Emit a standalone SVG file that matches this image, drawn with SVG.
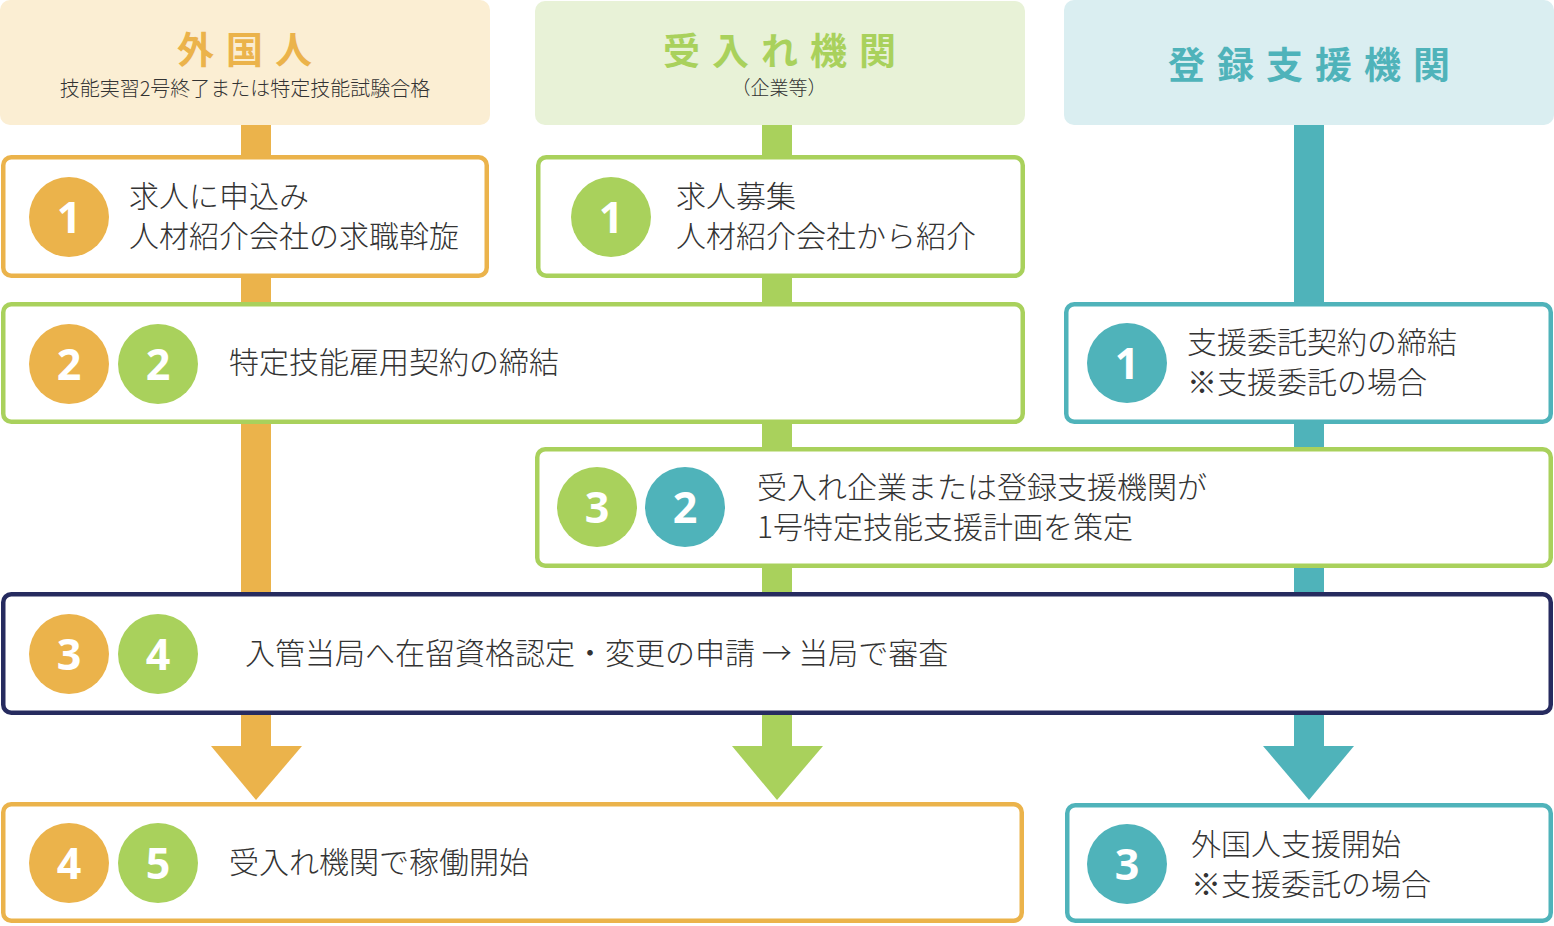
<svg xmlns="http://www.w3.org/2000/svg" width="1554" height="926" viewBox="0 0 1554 926">
<style>
.jp{font-family:"Noto Sans CJK JP","Noto Sans",sans-serif;}
.body{font-size:30px;fill:#333333;font-weight:300;}
.title{font-size:37px;font-weight:700;letter-spacing:12px;}
.num{font-family:"Open Sans","Noto Sans",sans-serif;font-weight:700;font-size:43px;fill:#ffffff;text-anchor:middle;}
.box{fill:#ffffff;stroke-width:4.5;}
.o{fill:#ebb34b;} .g{fill:#a9d15c;} .t{fill:#4fb3ba;}
.so{stroke:#ebb34b;} .sg{stroke:#a9d15c;} .st{stroke:#4fb3ba;} .sn{stroke:#262b5f;}
</style>
<rect width="1554" height="926" fill="#ffffff"/>
<g id="connectors">
  <rect x="241" y="124" width="30" height="623" class="o"/>
  <polygon points="211,746 302,746 256,800" class="o"/>
  <rect x="762" y="124" width="30" height="623" class="g"/>
  <polygon points="732,746 823,746 777,800" class="g"/>
  <rect x="1294" y="124" width="30" height="623" class="t"/>
  <polygon points="1263,746 1354,746 1309,800" class="t"/>
</g>
<g id="header-foreigner">
  <rect x="0" y="0" width="490" height="125" rx="10" fill="#fbeed3"/>
  <text x="177" y="64" class="jp title" fill="#ebb34b">外国人</text>
  <text x="245" y="96" class="jp" font-size="20" fill="#333333" text-anchor="middle" font-weight="300">技能実習2号終了または特定技能試験合格</text>
</g>
<g id="header-employer">
  <rect x="535" y="1" width="490" height="124" rx="10" fill="#e8f2d7"/>
  <text x="663" y="65" class="jp title" fill="#a9d15c">受入れ機関</text>
  <text x="779" y="95" class="jp" font-size="19" fill="#333333" text-anchor="middle" font-weight="300">（企業等）</text>
</g>
<g id="header-support">
  <rect x="1064" y="0" width="490" height="125" rx="10" fill="#daeef1"/>
  <text x="1168" y="79" class="jp title" fill="#4fb3ba">登録支援機関</text>
</g>
<g id="step-a1">
  <rect x="3.25" y="157.25" width="483.5" height="118.5" rx="8" class="box so"/>
  <circle cx="69" cy="217" r="40" class="o"/>
  <text x="69" y="233" class="num">1</text>
  <text x="129" y="207" class="jp body">求人に申込み</text>
  <text x="129" y="247" class="jp body">人材紹介会社の求職斡旋</text>
</g>
<g id="step-b1">
  <rect x="538.25" y="157.25" width="484.5" height="118.5" rx="8" class="box sg"/>
  <circle cx="611" cy="217" r="40" class="g"/>
  <text x="611" y="233" class="num">1</text>
  <text x="676" y="207" class="jp body">求人募集</text>
  <text x="676" y="247" class="jp body">人材紹介会社から紹介</text>
</g>
<g id="step-contract">
  <rect x="3.25" y="304.25" width="1019.5" height="117.5" rx="8" class="box sg"/>
  <circle cx="69" cy="364" r="40" class="o"/>
  <text x="69" y="380" class="num">2</text>
  <circle cx="158" cy="364" r="40" class="g"/>
  <text x="158" y="380" class="num">2</text>
  <text x="229" y="373" class="jp body">特定技能雇用契約の締結</text>
</g>
<g id="step-c1">
  <rect x="1066.25" y="304.25" width="484.5" height="117.5" rx="8" class="box st"/>
  <circle cx="1127" cy="363" r="40" class="t"/>
  <text x="1127" y="379" class="num">1</text>
  <text x="1187" y="353" class="jp body">支援委託契約の締結</text>
  <text x="1187" y="393" class="jp body">※支援委託の場合</text>
</g>
<g id="step-plan">
  <rect x="537.25" y="449.25" width="1013.5" height="116.5" rx="8" class="box sg"/>
  <circle cx="597" cy="507" r="40" class="g"/>
  <text x="597" y="523" class="num">3</text>
  <circle cx="685" cy="507" r="40" class="t"/>
  <text x="685" y="523" class="num">2</text>
  <text x="757" y="498" class="jp body">受入れ企業または登録支援機関が</text>
  <text x="757" y="538" class="jp body">1号特定技能支援計画を策定</text>
</g>
<g id="step-immigration">
  <rect x="3.25" y="594.25" width="1547.5" height="118.5" rx="8" class="box sn"/>
  <circle cx="69" cy="654" r="40" class="o"/>
  <text x="69" y="670" class="num">3</text>
  <circle cx="158" cy="654" r="40" class="g"/>
  <text x="158" y="670" class="num">4</text>
  <text x="245" y="664" class="jp body">入管当局へ在留資格認定・変更の申請 → 当局で審査</text>
</g>
<g id="step-start">
  <rect x="3.25" y="804.25" width="1018.5" height="116.5" rx="8" class="box so"/>
  <circle cx="69" cy="863" r="40" class="o"/>
  <text x="69" y="879" class="num">4</text>
  <circle cx="158" cy="863" r="40" class="g"/>
  <text x="158" y="879" class="num">5</text>
  <text x="229" y="873" class="jp body">受入れ機関で稼働開始</text>
</g>
<g id="step-c3">
  <rect x="1067.25" y="805.25" width="483.5" height="115.5" rx="8" class="box st"/>
  <circle cx="1127" cy="864" r="40" class="t"/>
  <text x="1127" y="880" class="num">3</text>
  <text x="1191" y="855" class="jp body">外国人支援開始</text>
  <text x="1191" y="895" class="jp body">※支援委託の場合</text>
</g>
</svg>
